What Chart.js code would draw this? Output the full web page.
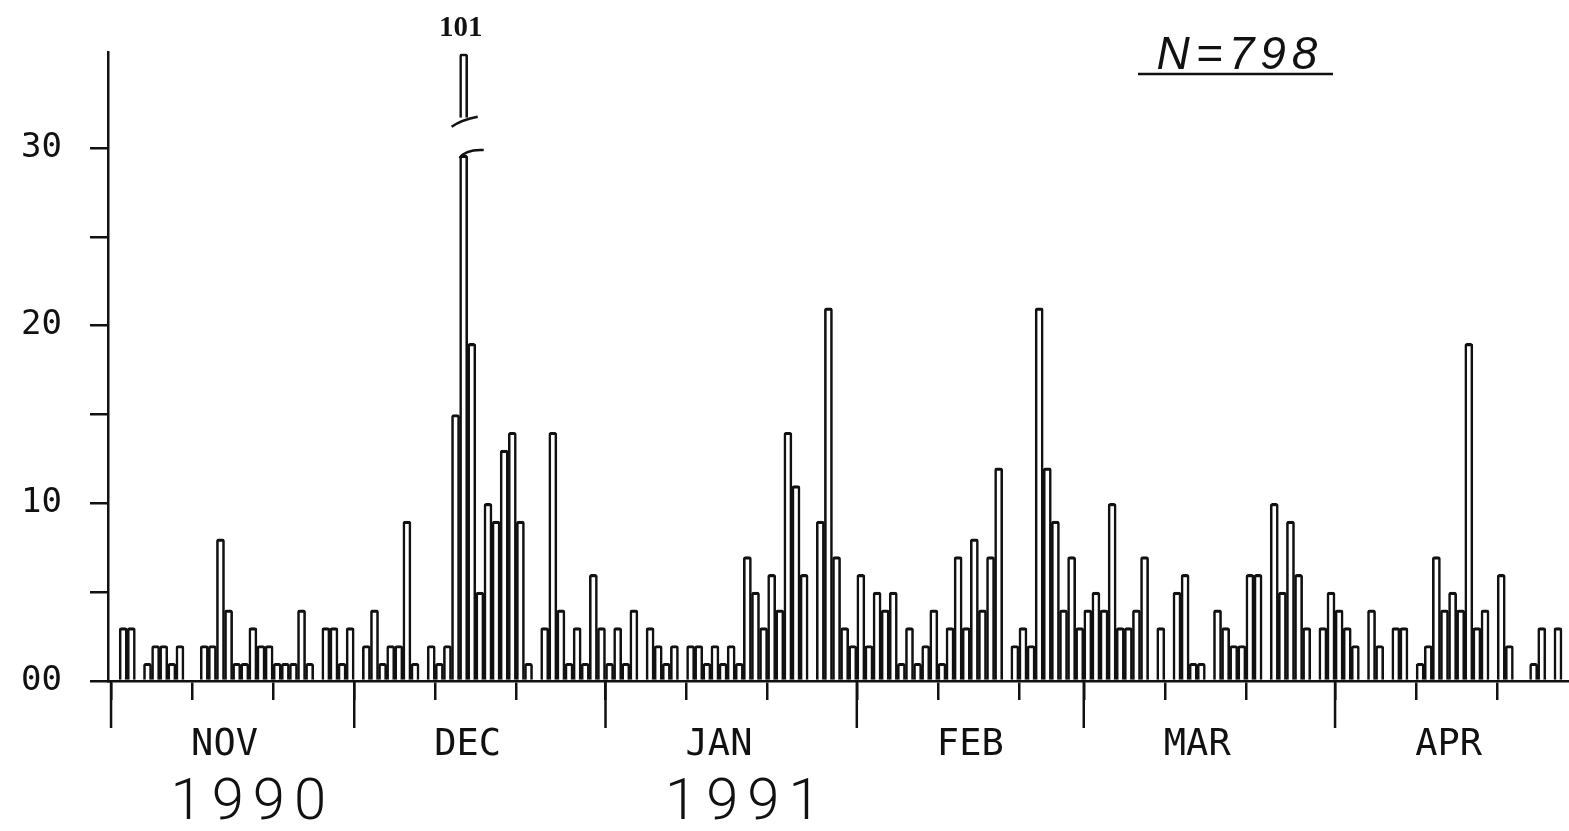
<!DOCTYPE html>
<html>
<head>
<meta charset="utf-8">
<title>Daily counts Nov 1990 - Apr 1991</title>
<script src="https://cdn.jsdelivr.net/npm/chart.js@4.4.1/dist/chart.umd.min.js"></script>
<style>
    html, body { margin: 0; padding: 0; background: #fff; }
    #chart { display: block; }
</style>
</head>
<body>
<canvas id="chart" width="1569" height="831"></canvas>
<script>
// Daily counts, one value per day
const nov = [0, 3, 3, 0, 1, 2, 2, 1, 2, 0, 0, 2, 2, 8, 4, 1, 1, 3, 2, 2, 1, 1, 1, 4, 1, 0, 3, 3, 1, 3];
const dec = [0, 2, 4, 1, 2, 2, 9, 1, 0, 2, 1, 2, 15, 101, 19, 5, 10, 9, 13, 14, 9, 1, 0, 3, 14, 4, 1, 3, 1, 6, 3];
const jan = [1, 3, 1, 4, 0, 3, 2, 1, 2, 0, 2, 2, 1, 2, 1, 2, 1, 7, 5, 3, 6, 4, 14, 11, 6, 0, 9, 21, 7, 3, 2];
const feb = [6, 2, 5, 4, 5, 1, 3, 1, 2, 4, 1, 3, 7, 3, 8, 4, 7, 12, 0, 2, 3, 2, 21, 12, 9, 4, 7, 3];
const mar = [4, 5, 4, 10, 3, 3, 4, 7, 0, 3, 0, 5, 6, 1, 1, 0, 4, 3, 2, 2, 6, 6, 0, 10, 5, 9, 6, 3, 0, 3, 5];
const apr = [4, 3, 2, 0, 4, 2, 0, 3, 3, 0, 1, 2, 7, 4, 5, 4, 19, 3, 4, 0, 6, 2, 0, 0, 1, 3, 0, 3];

const monthNames = ['NOV', 'DEC', 'JAN', 'FEB', 'MAR', 'APR'];
const monthLengths = [30, 31, 31, 28, 31, 30];
const yearLabels = ['1990', '1991'];
const yearTickDays = [17, 78];
const totalN = 798;

// axis break on the y axis (values above BREAK_LOW are drawn broken)
const BREAK_LOW = 29.6;
const BREAK_HIGH = 31.7;
const BREAK_TOP = 35.3;

const counts = nov.concat(dec, jan, feb, mar, apr);

const monthStarts = [];
let acc = 0;
monthLengths.forEach(function(len) {
    monthStarts.push(acc);
    acc += len;
});
// ticks every 10 days inside each month
const tickDays = [];
monthStarts.forEach(function(s) {
    tickDays.push(s, s + 10, s + 20);
});
const monthLabelDays = monthStarts.map(s => s + 14);

const lowerData = counts.map((v, d) => ({ x: d + 0.5, y: Math.min(v, BREAK_LOW) }));
const upperData = [];
counts.forEach(function(v, d) {
    if (v > BREAK_LOW) upperData.push({ x: d + 0.5, y: [BREAK_HIGH, BREAK_TOP] });
});

const INK = '#111';
const MONO = "'DejaVu Sans Mono', monospace";

// long ticks at month starts
const monthTickPlugin = {
    id: 'monthTicks',
    afterDraw(chart) {
        const x = chart.scales.x;
        const c = chart.ctx;
        c.save();
        c.strokeStyle = INK;
        c.lineWidth = 2.5;
        monthStarts.forEach(function(s) {
            const px = x.getPixelForValue(s);
            c.beginPath();
            c.moveTo(px, x.top);
            c.lineTo(px, x.top + 47);
            c.stroke();
        });
        c.restore();
    }
};

// year labels under the month row, spaced out like the plotter lettering
const yearPlugin = {
    id: 'years',
    afterDraw(chart) {
        const s = chart.scales.xYear;
        const c = chart.ctx;
        c.save();
        c.fillStyle = INK;
        c.font = "300 58px Roboto, 'DejaVu Sans', sans-serif";
        c.letterSpacing = '9px';
        c.textAlign = 'center';
        c.textBaseline = 'alphabetic';
        yearTickDays.forEach(function(d, i) {
            c.fillText(yearLabels[i], s.getPixelForValue(d) + 4, s.top + 56);
        });
        c.restore();
    }
};

// break marks and value label on the broken bar, plus N label
const annotatePlugin = {
    id: 'annotate',
    afterDatasetsDraw(chart) {
        const x = chart.scales.x;
        const y = chart.scales.y;
        const c = chart.ctx;
        c.save();
        c.strokeStyle = INK;
        c.fillStyle = INK;
        c.lineWidth = 2.5;
        counts.forEach(function(v, d) {
            if (v <= BREAK_LOW) return;
            const bx = x.getPixelForValue(d + 0.5);
            const w = x.getPixelForValue(1) - x.getPixelForValue(0);
            const yLow = y.getPixelForValue(BREAK_LOW);
            const yHigh = y.getPixelForValue(BREAK_HIGH);
            c.beginPath();
            c.moveTo(bx - w / 2, yLow + 3);
            c.quadraticCurveTo(bx + 2, yLow - 6, bx + w / 2 + 16, yLow - 5);
            c.stroke();
            c.beginPath();
            c.moveTo(bx - w / 2 - 8, yHigh + 9);
            c.quadraticCurveTo(bx - 2, yHigh + 2, bx + w / 2 + 10, yHigh - 1);
            c.stroke();
            c.font = "bold 29px 'Liberation Serif', serif";
            c.textAlign = 'center';
            c.textBaseline = 'alphabetic';
            c.fillText(String(v), bx - 3, y.getPixelForValue(BREAK_TOP) - 18);
        });

        c.font = "italic 46px 'Liberation Sans', sans-serif";
        c.textAlign = 'center';
        c.textBaseline = 'alphabetic';
        c.letterSpacing = '6px';
        c.fillText('N=' + totalN, 1240, 69);
        c.beginPath();
        c.moveTo(1138, 74);
        c.lineTo(1333, 74);
        c.stroke();
        c.restore();
    }
};

const barStyle = {
    backgroundColor: '#fff',
    borderColor: INK,
    borderRadius: { topLeft: 2.5, topRight: 2.5 },
    barPercentage: 1,
    categoryPercentage: 1,
    grouped: false
};

new Chart(document.getElementById('chart').getContext('2d'), {
    type: 'bar',
    data: {
        datasets: [
            Object.assign({ data: lowerData, borderWidth: { top: 3.2, left: 2.6, right: 2.6, bottom: 0 } }, barStyle),
            Object.assign({ data: upperData, borderWidth: { top: 2.8, left: 2.6, right: 2.6, bottom: 0 } }, barStyle)
        ]
    },
    options: {
        responsive: false,
        animation: false,
        layout: { padding: { top: 52, left: 0, right: 0, bottom: 0 } },
        plugins: {
            legend: { display: false },
            tooltip: { enabled: false }
        },
        scales: {
            x: {
                type: 'linear',
                position: 'bottom',
                min: -0.376,
                max: 179.86,
                offset: false,
                afterBuildTicks: s => { s.ticks = tickDays.map(v => ({ value: v })); },
                afterFit: s => { s.height = 34; },
                grid: { offset: false, drawOnChartArea: false, color: INK, lineWidth: 2.5, tickLength: 19 },
                border: { color: INK, width: 2.5 },
                ticks: { callback: () => '', autoSkip: false, maxRotation: 0 }
            },
            xMonth: {
                type: 'linear',
                position: 'bottom',
                min: -0.376,
                max: 179.86,
                offset: false,
                afterBuildTicks: s => { s.ticks = monthLabelDays.map(v => ({ value: v })); },
                afterFit: s => { s.height = 48; },
                grid: { display: false },
                border: { display: false },
                ticks: {
                    callback: (v, i) => monthNames[i],
                    autoSkip: false,
                    maxRotation: 0,
                    padding: 0,
                    color: INK,
                    font: { family: MONO, size: 37 }
                }
            },
            xYear: {
                type: 'linear',
                position: 'bottom',
                min: -0.376,
                max: 179.86,
                offset: false,
                afterFit: s => { s.height = 68; },
                grid: { display: false },
                border: { display: false },
                ticks: { display: false }
            },
            y: {
                min: 0,
                max: 35.4,
                afterFit: s => { s.width = 108; },
                grid: {
                    drawOnChartArea: false,
                    tickLength: 18,
                    lineWidth: 2.5,
                    color: c => (c.tick && c.tick.value % 5 === 0) ? INK : 'rgba(0,0,0,0)'
                },
                border: { color: INK, width: 2.5 },
                ticks: {
                    stepSize: 5,
                    padding: 28,
                    color: INK,
                    font: { family: MONO, size: 34 },
                    callback: v => v === 0 ? '00' : (v % 10 === 0 ? String(v) : '')
                }
            }
        }
    },
    plugins: [monthTickPlugin, yearPlugin, annotatePlugin]
});
</script>
</body>
</html>
